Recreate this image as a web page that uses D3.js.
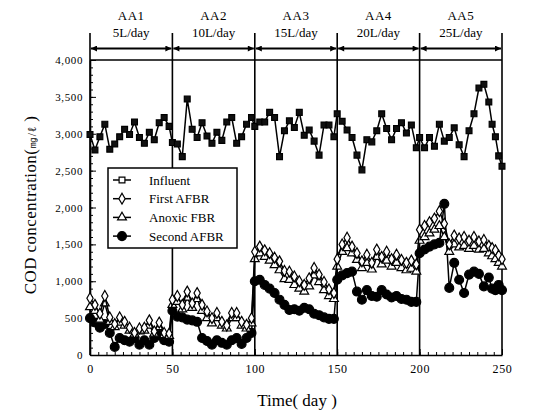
<!DOCTYPE html>
<html>
<head>
<meta charset="utf-8">
<script src="https://cdn.jsdelivr.net/npm/d3@7"></script>
<style>
  body { margin: 0; background: #fff; }
  text { font-family: "Liberation Serif", "DejaVu Serif", serif; fill: #000; }
</style>
</head>
<body>
<div id="chart"></div>
<script>
// phases
var phases = ["AA1", "AA2", "AA3", "AA4", "AA5"];
var loads = ["5L/day", "10L/day", "15L/day", "20L/day", "25L/day"];
var bounds = [0, 50, 100, 150, 200, 250];

// sampling days
var days = [0, 3, 6, 9, 12, 15, 18, 21, 24, 27, 30, 33, 36, 39, 42, 45, 48,
  50, 53, 56, 59, 62, 65, 68, 71, 74, 77, 80, 83, 86, 89, 92, 95, 98,
  100, 103, 106, 109, 112, 115, 118, 121, 124, 127, 130, 133, 136, 139, 142, 145, 148,
  150, 153, 156, 159, 162, 165, 168, 171, 174, 177, 180, 183, 186, 189, 192, 195, 198,
  200, 203, 206, 209, 212, 215, 218, 221, 224, 227, 230, 233, 236, 239, 242, 244, 246, 248, 250];

var influent = [2990, 2780, 2960, 3130, 2790, 2860, 2960, 3060, 2990, 3160, 2950, 2870, 3020, 2920, 3150, 3220, 3100,
  2880, 2860, 2690, 3470, 3060, 2950, 3150, 2970, 2870, 3020, 2910, 3160, 3220, 2870, 2960, 3130, 3220,
  3100, 3160, 3160, 3290, 3220, 2690, 3040, 3175, 3085, 3290, 2980, 3050, 2900, 2710, 3120, 3120, 2960,
  3270, 3170, 3050, 2950, 2710, 2510, 2920, 2890, 3040, 3270, 3070, 2920, 3070, 3150, 3010, 3120, 2810,
  2950, 2810, 2950, 2830, 3130, 2900, 2950, 3080, 2850, 2690, 3040, 3270, 3620, 3670, 3430, 3130, 2960, 2700, 2560];

var firstAFBR = [770, 680, 560, 800, 510, 420, 510, 450, 370, 300, 360, 370, 470, 320, 440, 300, 290,
  750, 800, 680, 860, 700, 840, 680, 590, 500, 570, 450, 400, 570, 570, 450, 410, 500,
  1400, 1470, 1420, 1380, 1320, 1270, 1140, 1130, 1065, 1000, 950, 1040, 1180, 1090, 990, 890, 840,
  1300, 1500, 1590, 1470, 1380, 1270, 1360, 1250, 1430, 1330, 1400, 1300, 1360, 1290, 1250, 1280, 1230,
  1700, 1750, 1800, 1850, 1950, 1780, 1500, 1620, 1580, 1600, 1550, 1600, 1540, 1560, 1480, 1450, 1420, 1350, 1300];

var anoxicFBR = [650, 600, 480, 700, 450, 380, 440, 400, 330, 280, 320, 330, 400, 290, 380, 270, 260,
  680, 720, 620, 780, 640, 760, 600, 500, 430, 500, 400, 360, 500, 500, 400, 360, 430,
  1300, 1380, 1330, 1280, 1220, 1150, 1030, 1020, 950, 900, 860, 930, 1080, 990, 880, 800, 760,
  1200, 1400, 1450, 1380, 1290, 1180, 1250, 1160, 1330, 1230, 1280, 1200, 1250, 1180, 1150, 1170, 1130,
  1550, 1600, 1650, 1700, 1750, 1600, 1400, 1500, 1460, 1480, 1440, 1480, 1430, 1440, 1380, 1340, 1300, 1250, 1200];

var secondAFBR = [500, 440, 370, 420, 300, 110, 230, 200, 180, 230, 140, 200, 140, 230, 270, 200, 180,
  600, 520, 510, 480, 470, 450, 230, 190, 140, 200, 165, 140, 200, 230, 150, 230, 300,
  1000, 1020, 950, 900, 840, 750, 680, 610, 620, 600, 640, 620, 560, 540, 510, 490, 490,
  1020, 1080, 1110, 1130, 860, 750, 880, 800, 790, 880, 820, 780, 800, 760, 750, 720, 720,
  1380, 1430, 1470, 1500, 1520, 2050, 910, 1250, 1020, 840, 1090, 1130, 1100, 930, 1050, 900, 880, 950, 880];

var yTicks = [0, 500, 1000, 1500, 2000, 2500, 3000, 3500, 4000];
var xTicks = [0, 50, 100, 150, 200, 250];

var svgWidth = 538;
var svgHeight = 412;
var margin = {top: 60, right: 36, bottom: 57, left: 90};

var svg = d3.select("#chart")
  .append("svg")
  .attr("width", svgWidth)
  .attr("height", svgHeight);

svg.append("rect").attr("width", svgWidth).attr("height", svgHeight).attr("fill", "#fff");

var x = d3.scaleLinear().domain([0, 250]).range([margin.left, svgWidth - margin.right]);
var y = d3.scaleLinear().domain([0, 4000]).range([svgHeight - margin.bottom, margin.top]);

// minor ticks
svg.append("g")
  .attr("transform", `translate(${margin.left},0)`)
  .call(d3.axisLeft(y).tickValues(d3.range(0, 4001, 100)).tickSize(-3).tickFormat(""))
  .call(g => g.select(".domain").remove());

svg.append("g")
  .attr("transform", `translate(0,${y(0)})`)
  .call(d3.axisBottom(x).tickValues(d3.range(0, 251, 5)).tickSize(-3).tickFormat(""))
  .call(g => g.select(".domain").remove());

// major axes
var leftAxis = svg.append("g")
  .attr("transform", `translate(${margin.left},0)`)
  .call(d3.axisLeft(y).tickValues(yTicks).tickSize(-6).tickSizeOuter(0).tickPadding(7).tickFormat(d3.format(",")));

var bottomAxis = svg.append("g")
  .attr("transform", `translate(0,${y(0)})`)
  .call(d3.axisBottom(x).tickValues(xTicks).tickSize(-6).tickSizeOuter(0).tickPadding(9));

svg.selectAll(".tick line").attr("stroke", "#000").attr("stroke-width", 1);
svg.selectAll(".domain").attr("stroke", "#000").attr("stroke-width", 1.6);
leftAxis.selectAll("text").style("font-size", "11px").style("letter-spacing", "0.6px");
bottomAxis.selectAll("text").style("font-size", "12px").style("letter-spacing", "0.6px");

// top border
svg.append("line")
  .attr("x1", x(0)).attr("x2", x(250))
  .attr("y1", y(4000)).attr("y2", y(4000))
  .attr("stroke", "#000").attr("stroke-width", 1.6);

// phase boundaries
svg.selectAll(".bound")
  .data(bounds)
  .enter()
  .append("line")
  .attr("x1", d => x(d)).attr("x2", d => x(d))
  .attr("y1", 33).attr("y2", y(0))
  .attr("stroke", "#000").attr("stroke-width", 1.6);

// arrows
var defs = svg.append("defs");
defs.append("marker")
  .attr("id", "arr")
  .attr("viewBox", "0 0 10 10")
  .attr("refX", 10).attr("refY", 5)
  .attr("markerWidth", 7).attr("markerHeight", 6)
  .attr("markerUnits", "userSpaceOnUse")
  .attr("orient", "auto-start-reverse")
  .append("path")
  .attr("d", "M0,0 L10,5 L0,10 z")
  .attr("fill", "#000");

var phaseData = phases.map((p, i) => ({name: p, load: loads[i], a: bounds[i], b: bounds[i + 1]}));

svg.selectAll(".arrow")
  .data(phaseData)
  .enter()
  .append("line")
  .attr("x1", d => x(d.a) + 1).attr("x2", d => x(d.b) - 1)
  .attr("y1", 48.5).attr("y2", 48.5)
  .attr("stroke", "#000").attr("stroke-width", 1.8)
  .attr("marker-start", "url(#arr)")
  .attr("marker-end", "url(#arr)");

svg.selectAll(".phase")
  .data(phaseData)
  .enter()
  .append("text")
  .attr("x", d => x((d.a + d.b) / 2))
  .attr("y", 20)
  .attr("text-anchor", "middle")
  .style("font-size", "13px")
  .style("letter-spacing", "0.5px")
  .text(d => d.name);

svg.selectAll(".load")
  .data(phaseData)
  .enter()
  .append("text")
  .attr("x", d => x((d.a + d.b) / 2))
  .attr("y", 37)
  .attr("text-anchor", "middle")
  .style("font-size", "13px")
  .text(d => d.load);

// series
var series = [
  {name: "Second AFBR", values: secondAFBR, sym: d3.symbolCircle, size: 62, fill: "#000"},
  {name: "Anoxic FBR", values: anoxicFBR, sym: d3.symbolTriangle, size: 34, fill: "#fff"},
  {name: "First AFBR", values: firstAFBR, sym: d3.symbolDiamond, size: 34, fill: "#fff"},
  {name: "Influent", values: influent, sym: d3.symbolSquare, size: 34, fill: "#111"}
];

var line = d3.line()
  .x(d => x(d[0]))
  .y(d => y(d[1]));

series.forEach(function(s) {
  var pts = days.map((d, i) => [d, s.values[i]]);
  svg.append("path")
    .datum(pts)
    .attr("d", line)
    .attr("fill", "none")
    .attr("stroke", "#000")
    .attr("stroke-width", 1.5);
  svg.selectAll(null)
    .data(pts)
    .enter()
    .append("path")
    .attr("transform", d => `translate(${x(d[0])},${y(d[1])})`)
    .attr("d", d3.symbol().type(s.sym).size(s.size))
    .attr("fill", s.fill)
    .attr("stroke", "#000")
    .attr("stroke-width", 1.2);
});

// legend
var legend = svg.append("g");
legend.append("rect")
  .attr("x", 108).attr("y", 168)
  .attr("width", 129).attr("height", 80)
  .attr("fill", "#fff")
  .attr("stroke", "#000").attr("stroke-width", 1.5);

var legendItems = [
  {name: "Influent", sym: d3.symbolSquare, size: 34, fill: "#fff"},
  {name: "First AFBR", sym: d3.symbolDiamond, size: 34, fill: "#fff"},
  {name: "Anoxic FBR", sym: d3.symbolTriangle, size: 34, fill: "#fff"},
  {name: "Second AFBR", sym: d3.symbolCircle, size: 62, fill: "#000"}
];

legendItems.forEach(function(it, i) {
  var cy = 180 + i * 18.7;
  legend.append("line")
    .attr("x1", 113).attr("x2", 131)
    .attr("y1", cy).attr("y2", cy)
    .attr("stroke", "#000").attr("stroke-width", 1.5);
  legend.append("path")
    .attr("transform", `translate(122,${cy})`)
    .attr("d", d3.symbol().type(it.sym).size(it.size))
    .attr("fill", it.fill)
    .attr("stroke", "#000").attr("stroke-width", 1.2);
  legend.append("text")
    .attr("x", 149).attr("y", cy + 4.5)
    .style("font-size", "13px")
    .text(it.name);
});

// axis titles
svg.append("text")
  .attr("transform", "translate(36,205) rotate(-90)")
  .attr("text-anchor", "middle")
  .style("font-size", "17px")
  .style("letter-spacing", "0.4px")
  .html('COD concentration(<tspan style="font-size:12px">㎎/ℓ</tspan> )');

svg.append("text")
  .attr("x", 297).attr("y", 406)
  .attr("text-anchor", "middle")
  .style("font-size", "17px")
  .text("Time( day )");
</script>
</body>
</html>
